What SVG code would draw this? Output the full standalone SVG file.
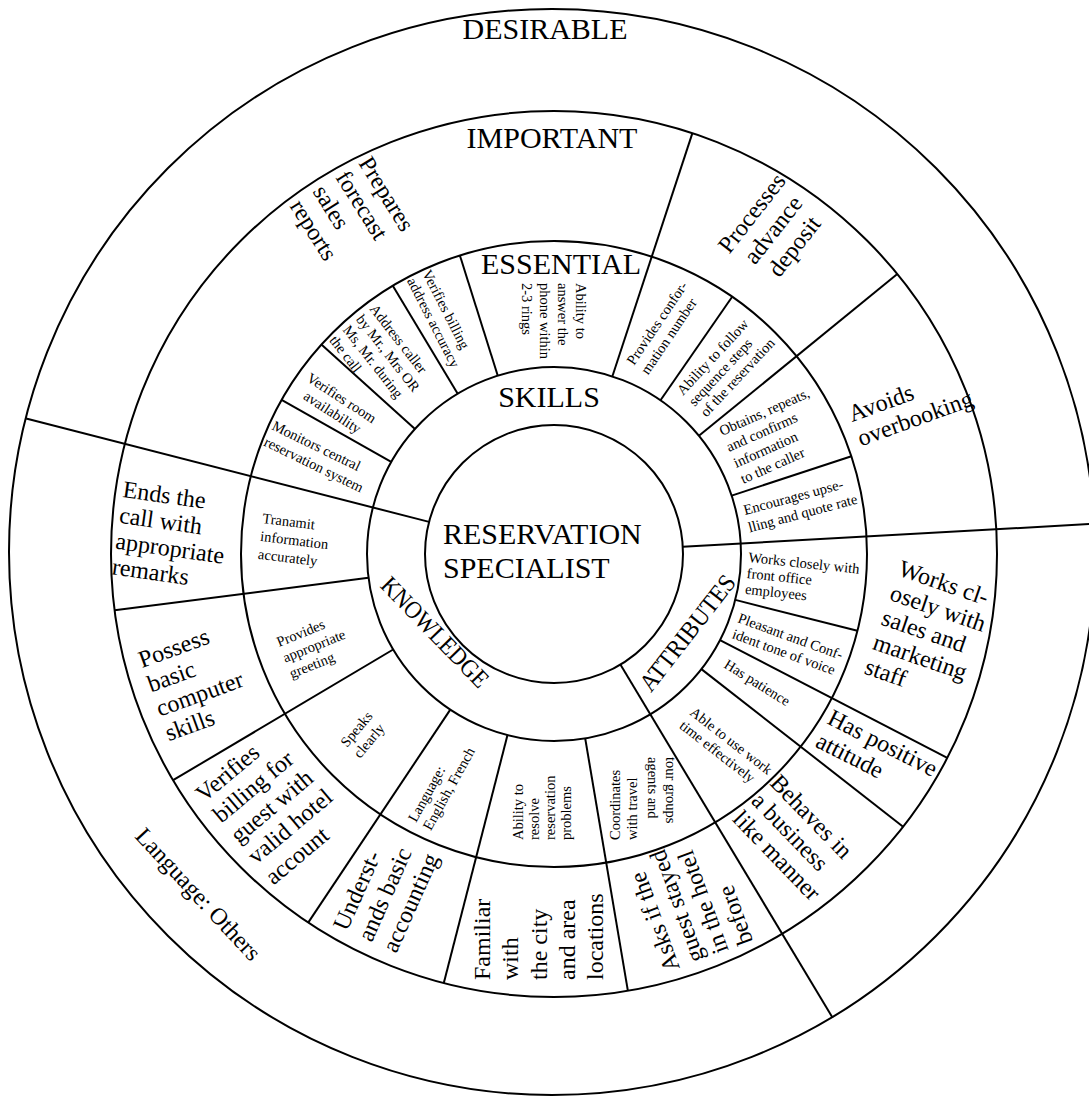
<svg xmlns="http://www.w3.org/2000/svg" width="1089" height="1096" viewBox="0 0 1089 1096">
<style>
.ring{fill:none;stroke:#000;stroke-width:2}
.sp{stroke:#000;stroke-width:2;fill:none}
text{font-family:"Liberation Serif","Times New Roman",serif;fill:#000}
.h{font-size:30px}
.m{font-size:24px}
.s{font-size:14.5px}
.mid{text-anchor:middle}
</style>
<rect width="1089" height="1096" fill="#fff"/>
<g id="rings">
<circle class="ring" cx="552" cy="552" r="543"/>
<circle class="ring" cx="554" cy="554" r="443"/>
<circle class="ring" cx="554" cy="554" r="313"/>
<circle class="ring" cx="554" cy="554" r="187"/>
<circle class="ring" cx="554" cy="554" r="129"/>
</g>
<g id="connectors">
<line class="sp" x1="429.1" y1="521.9" x2="26.1" y2="418.5"/>
<line class="sp" x1="682.8" y1="546.8" x2="1113" y2="522.7"/>
<line class="sp" x1="620.4" y1="664.6" x2="832.6" y2="1017.7"/>
<line class="sp" x1="612.4" y1="376.3" x2="692.4" y2="133.1"/>
<line class="sp" x1="698.9" y1="435.8" x2="897.3" y2="274.0"/>
<line class="sp" x1="368.5" y1="577.8" x2="114.6" y2="610.3"/>
<line class="sp" x1="393.2" y1="649.5" x2="173.1" y2="780.2"/>
<line class="sp" x1="450.3" y1="709.6" x2="308.2" y2="922.6"/>
<line class="sp" x1="507.5" y1="735.1" x2="443.8" y2="983.1"/>
<line class="sp" x1="585.2" y1="738.4" x2="627.9" y2="990.8"/>
<line class="sp" x1="701.4" y1="669.1" x2="903.1" y2="826.7"/>
<line class="sp" x1="720.0" y1="640.1" x2="947.3" y2="757.9"/>
<line class="sp" x1="391.2" y1="461.9" x2="281.6" y2="399.9"/>
<line class="sp" x1="415.0" y1="428.9" x2="321.4" y2="344.6"/>
<line class="sp" x1="457.7" y1="393.7" x2="392.8" y2="285.7"/>
<line class="sp" x1="497.8" y1="375.7" x2="459.9" y2="255.5"/>
<line class="sp" x1="660.5" y1="400.3" x2="732.2" y2="296.7"/>
<line class="sp" x1="731.7" y1="495.6" x2="851.4" y2="456.2"/>
<line class="sp" x1="735.3" y1="599.9" x2="857.4" y2="630.8"/>
</g>
<g id="label-desirable"><text class="h mid" x="545" y="39">DESIRABLE</text></g>
<g id="label-important"><text class="h mid" x="552" y="148">IMPORTANT</text></g>
<g id="label-essential"><text class="h mid" x="561" y="274">ESSENTIAL</text></g>
<g id="label-skills"><text class="h mid" x="549" y="407">SKILLS</text></g>
<g id="center-node"><text class="h" x="443" y="544">RESERVATION</text><text class="h" x="443" y="578">SPECIALIST</text></g>
<g id="label-knowledge"><text class="mid" transform="translate(429,638) rotate(46)" textLength="143" lengthAdjust="spacingAndGlyphs" style="font-size:25px">KNOWLEDGE</text></g>
<g id="label-attributes"><text class="mid" transform="translate(694,638) rotate(-52)" textLength="140" lengthAdjust="spacingAndGlyphs" style="font-size:25px">ATTRIBUTES</text></g>

<g id="e-monitors" transform="translate(271,429) rotate(26)"><text class="s"><tspan x="0" y="0">Monitors central</tspan><tspan x="0" y="18">reservation system</tspan></text></g>
<g id="e-room" transform="translate(339,402) rotate(33)"><text class="s mid"><tspan x="0" y="0">Verifies room</tspan><tspan x="0" y="17">availability</tspan></text></g>
<g id="e-address" transform="translate(369,309) rotate(52)"><text class="s"><tspan x="0" y="0">Address caller</tspan><tspan x="0" y="17">by Mr., Mrs OR</tspan><tspan x="0" y="34">Ms, Mr. during</tspan><tspan x="0" y="51">the call</tspan></text></g>
<g id="e-billing" transform="translate(422,273) rotate(63)"><text class="s"><tspan x="0" y="0">Verifies billing</tspan><tspan x="0" y="17">address accuracy</tspan></text></g>
<g id="e-answer" transform="translate(576,283) rotate(90)"><text class="s"><tspan x="0" y="0">Ability to</tspan><tspan x="0" y="18">answer the</tspan><tspan x="0" y="36">phone within</tspan><tspan x="0" y="54">2-3 rings</tspan></text></g>
<g id="e-confirm" transform="translate(634,366) rotate(-56)"><text class="s"><tspan x="0" y="0">Provides confor-</tspan><tspan x="0" y="17">mation number</tspan></text></g>
<g id="e-sequence" transform="translate(683,396) rotate(-47)"><text class="s"><tspan x="0" y="0">Ability to follow</tspan><tspan x="0" y="16">sequence steps</tspan><tspan x="0" y="32">of the reservation</tspan></text></g>
<g id="e-obtains" transform="translate(722,436) rotate(-24)"><text class="s"><tspan x="0" y="0">Obtains, repeats,</tspan><tspan x="0" y="17.5">and confirms</tspan><tspan x="0" y="35">information</tspan><tspan x="0" y="52.5">to the caller</tspan></text></g>
<g id="e-upselling" transform="translate(745,515) rotate(-15)"><text class="s"><tspan x="0" y="0">Encourages upse-</tspan><tspan x="0" y="18">lling and quote rate</tspan></text></g>
<g id="a-frontoffice" transform="translate(748,562) rotate(6)"><text class="s"><tspan x="0" y="0">Works closely with</tspan><tspan x="0" y="16">front office</tspan><tspan x="0" y="32">employees</tspan></text></g>
<g id="a-pleasant" transform="translate(737,622) rotate(20)"><text class="s"><tspan x="0" y="0">Pleasant and Conf-</tspan><tspan x="0" y="17">ident tone of voice</tspan></text></g>
<g id="a-patience" transform="translate(723,667) rotate(32)"><text class="s">Has patience</text></g>
<g id="a-worktime" transform="translate(689,714) rotate(38)"><text class="s"><tspan x="0" y="0">Able to use work</tspan><tspan x="0" y="17">time effectively</tspan></text></g>
<g id="k-coordinates">
<g transform="translate(620,840) rotate(-90)"><text class="s"><tspan x="0" y="0">Coordinates</tspan><tspan x="0" y="17">with travel</tspan></text></g>
<g transform="translate(648,757) rotate(90)"><text class="s">agents and</text></g>
<g transform="translate(666,757) rotate(90)"><text class="s">tour groups</text></g>
</g>
<g id="k-resolve" transform="translate(523,840) rotate(-90)"><text class="s"><tspan x="0" y="0">Ability to</tspan><tspan x="0" y="16">resolve</tspan><tspan x="0" y="32">reservation</tspan><tspan x="0" y="48">problems</tspan></text></g>
<g id="k-language" transform="translate(416,823) rotate(-61)"><text class="s"><tspan x="0" y="0">Language:</tspan><tspan x="0" y="17">English, French</tspan></text></g>
<g id="k-speaks" transform="translate(347,748) rotate(-50)"><text class="s"><tspan x="0" y="0">Speaks</tspan><tspan x="0" y="17">clearly</tspan></text></g>
<g id="k-greeting" transform="translate(279,647) rotate(-22)"><text class="s"><tspan x="0" y="0">Provides</tspan><tspan x="0" y="17">appropriate</tspan><tspan x="0" y="34">greeting</tspan></text></g>
<g id="k-transmit" transform="translate(262,523) rotate(7)"><text class="s"><tspan x="0" y="0">Tranamit</tspan><tspan x="0" y="18">information</tspan><tspan x="0" y="36">accurately</tspan></text></g>

<g id="i-forecast" transform="translate(358,163) rotate(58)"><text class="m"><tspan x="0" y="0">Prepares</tspan><tspan x="0" y="27">forecast</tspan><tspan x="0" y="54">sales</tspan><tspan x="0" y="81">reports</tspan></text></g>
<g id="i-deposit" transform="translate(758,218) rotate(-52)"><text class="m mid"><tspan x="0" y="0">Processes</tspan><tspan x="0" y="27">advance</tspan><tspan x="0" y="54">deposit</tspan></text></g>
<g id="i-overbooking" transform="translate(852,422) rotate(-20)"><text class="m"><tspan x="0" y="0">Avoids</tspan><tspan x="0" y="26">overbooking</tspan></text></g>
<g id="i-sales" transform="translate(897,575) rotate(19)"><text class="m"><tspan x="0" y="0">Works cl-</tspan><tspan x="0" y="26">osely with</tspan><tspan x="0" y="52">sales and</tspan><tspan x="0" y="78">marketing</tspan><tspan x="0" y="104">staff</tspan></text></g>
<g id="i-attitude" transform="translate(826,723) rotate(27)"><text class="m"><tspan x="0" y="0">Has positive</tspan><tspan x="0" y="26">attitude</tspan></text></g>
<g id="i-business" transform="translate(769,784) rotate(46)"><text class="m"><tspan x="0" y="0">Behaves in</tspan><tspan x="0" y="26">a business</tspan><tspan x="0" y="52">like manner</tspan></text></g>
<g id="i-stayed" transform="translate(680,968) rotate(-110)"><text class="m"><tspan x="0" y="0">Asks if the</tspan><tspan x="0" y="26">guest stayed</tspan><tspan x="0" y="52">in the hotel</tspan><tspan x="0" y="78">before</tspan></text></g>
<g id="i-city" transform="translate(490,980) rotate(-90)"><text class="m"><tspan x="0" y="0">Familiar</tspan><tspan x="0" y="28">with</tspan><tspan x="0" y="56.5">the city</tspan><tspan x="0" y="85">and area</tspan><tspan x="0" y="113">locations</tspan></text></g>
<g id="i-accounting" transform="translate(347,932) rotate(-66)"><text class="m"><tspan x="0" y="0">Underst-</tspan><tspan x="0" y="27">ands basic</tspan><tspan x="0" y="54">accounting</tspan></text></g>
<g id="i-guestbilling" transform="translate(204,803) rotate(-40)"><text class="m"><tspan x="0" y="0">Verifies</tspan><tspan x="0" y="27">billing for</tspan><tspan x="0" y="54">guest with</tspan><tspan x="0" y="81">valid hotel</tspan><tspan x="0" y="108">account</tspan></text></g>
<g id="i-computer" transform="translate(142,668) rotate(-20)"><text class="m"><tspan x="0" y="0">Possess</tspan><tspan x="0" y="26">basic</tspan><tspan x="0" y="52">computer</tspan><tspan x="0" y="78">skills</tspan></text></g>
<g id="i-endcall" transform="translate(122,497) rotate(8)"><text class="m"><tspan x="0" y="0">Ends the</tspan><tspan x="0" y="26">call with</tspan><tspan x="0" y="52">appropriate</tspan><tspan x="0" y="78">remarks</tspan></text></g>
<g id="d-language" transform="translate(134,837) rotate(47)"><text class="m">Language: Others</text></g>
</svg>
